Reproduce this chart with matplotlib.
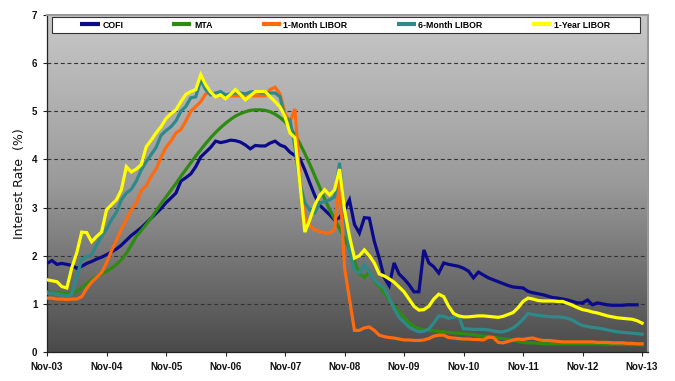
import numpy as np
import matplotlib
matplotlib.use("Agg")
import matplotlib.pyplot as plt
from matplotlib.colors import LinearSegmentedColormap
from matplotlib.patches import Rectangle

# ---------------- data (monthly, Nov-03 .. Nov-13) ----------------
tick_labels = ["Nov-03", "Nov-04", "Nov-05", "Nov-06", "Nov-07", "Nov-08",
               "Nov-09", "Nov-10", "Nov-11", "Nov-12", "Nov-13"]

cofi = [1.84, 1.90, 1.82, 1.84, 1.82, 1.80, 1.74, 1.78, 1.84, 1.88, 1.93, 1.97,
        2.02, 2.08, 2.14, 2.22, 2.32, 2.42, 2.50, 2.58, 2.68, 2.78, 2.88, 2.98,
        3.10, 3.20, 3.30, 3.55, 3.62, 3.70, 3.85, 4.05, 4.15, 4.25, 4.38, 4.35,
        4.37, 4.40, 4.39, 4.36, 4.30, 4.22, 4.29, 4.28, 4.28, 4.34, 4.38, 4.30,
        4.26, 4.15, 4.08, 4.02, 3.78, 3.51, 3.25, 3.05, 2.95, 2.85, 2.74, 2.79,
        2.95, 3.16, 2.65, 2.47, 2.79, 2.78, 2.30, 1.95, 1.55, 1.38, 1.85, 1.62,
        1.52, 1.40, 1.25, 1.25, 2.12, 1.85, 1.77, 1.64, 1.85, 1.82, 1.80, 1.78,
        1.74, 1.68, 1.54, 1.66, 1.60, 1.54, 1.50, 1.46, 1.42, 1.38, 1.35, 1.34,
        1.33, 1.26, 1.23, 1.21, 1.19, 1.16, 1.13, 1.12, 1.10, 1.08, 1.05, 1.02,
        1.02, 1.08, 0.98, 1.02, 1.00, 0.98, 0.97, 0.97, 0.97, 0.98, 0.98, 0.98]

mta = [1.25, 1.24, 1.23, 1.22, 1.22, 1.22, 1.26, 1.33, 1.42, 1.50, 1.57, 1.62,
       1.67, 1.74, 1.82, 1.92, 2.05, 2.22, 2.40, 2.52, 2.65, 2.78, 2.93, 3.08,
       3.22, 3.36, 3.50, 3.65, 3.79, 3.93, 4.07, 4.20, 4.33, 4.45, 4.56, 4.66,
       4.75, 4.83, 4.90, 4.95, 4.99, 5.02, 5.03, 5.03, 5.02, 4.99, 4.94, 4.87,
       4.78, 4.66, 4.51, 4.33, 4.12, 3.90, 3.66, 3.42, 3.18, 2.96, 2.76, 2.56,
       2.36, 2.14, 1.88, 1.62, 1.55, 1.66, 1.48, 1.36, 1.23, 1.08, 0.95, 0.84,
       0.72, 0.61, 0.53, 0.49, 0.46, 0.45, 0.44, 0.43, 0.42, 0.41, 0.40, 0.39,
       0.38, 0.37, 0.36, 0.34, 0.33, 0.32, 0.31, 0.29, 0.28, 0.26, 0.24, 0.22,
       0.20, 0.19, 0.19, 0.18, 0.17, 0.17, 0.17, 0.17, 0.17, 0.17, 0.17, 0.17,
       0.17, 0.17, 0.17, 0.17, 0.17, 0.16, 0.16, 0.16, 0.16, 0.16, 0.15, 0.15,
       0.15]

libor_1m = [1.12, 1.12, 1.10, 1.10, 1.09, 1.10, 1.10, 1.15, 1.32, 1.45, 1.55, 1.65,
            1.85, 2.10, 2.32, 2.55, 2.75, 2.95, 3.10, 3.35, 3.45, 3.65, 3.80, 4.05,
            4.25, 4.38, 4.55, 4.62, 4.80, 5.00, 5.10, 5.20, 5.36, 5.40, 5.32, 5.32,
            5.32, 5.32, 5.32, 5.32, 5.32, 5.32, 5.32, 5.32, 5.32, 5.45, 5.50, 5.36,
            4.95, 4.78, 5.05, 3.60, 2.80, 2.62, 2.54, 2.50, 2.47, 2.47, 2.55, 3.60,
            1.75, 1.10, 0.45, 0.45, 0.50, 0.52, 0.45, 0.35, 0.32, 0.30, 0.29, 0.27,
            0.25, 0.25, 0.24, 0.24, 0.25, 0.28, 0.33, 0.35, 0.35, 0.30, 0.29, 0.28,
            0.27, 0.27, 0.26, 0.26, 0.25, 0.31, 0.30, 0.20, 0.19, 0.22, 0.25, 0.27,
            0.26, 0.28, 0.29, 0.26, 0.24, 0.24, 0.23, 0.22, 0.21, 0.21, 0.21, 0.21,
            0.21, 0.21, 0.21, 0.20, 0.20, 0.20, 0.19, 0.19, 0.19, 0.18, 0.18, 0.17,
            0.17]

libor_6m = [1.22, 1.22, 1.20, 1.18, 1.16, 1.20, 1.55, 1.93, 1.98, 2.02, 2.22, 2.40,
            2.55, 2.75, 2.90, 3.16, 3.30, 3.38, 3.55, 3.78, 3.95, 4.10, 4.25, 4.50,
            4.60, 4.68, 4.80, 5.00, 5.10, 5.28, 5.30, 5.65, 5.45, 5.34, 5.38, 5.41,
            5.34, 5.36, 5.38, 5.38, 5.36, 5.40, 5.41, 5.38, 5.38, 5.38, 5.38, 5.30,
            4.86, 4.82, 4.26, 3.50, 3.10, 2.95, 2.89, 3.10, 3.12, 3.16, 3.22, 3.93,
            2.85, 2.10, 1.70, 1.64, 1.81, 1.66, 1.50, 1.40, 1.33, 1.12, 0.90, 0.72,
            0.62, 0.52, 0.46, 0.42, 0.43, 0.48, 0.60, 0.75, 0.74, 0.70, 0.72, 0.75,
            0.48, 0.48, 0.47, 0.47, 0.47, 0.46, 0.44, 0.42, 0.42, 0.45, 0.50, 0.58,
            0.68, 0.80, 0.78, 0.76, 0.75, 0.74, 0.73, 0.73, 0.72, 0.70, 0.66, 0.60,
            0.55, 0.53, 0.51, 0.50, 0.48, 0.46, 0.44, 0.42, 0.41, 0.40, 0.39, 0.38,
            0.37]

libor_1y = [1.50, 1.48, 1.46, 1.36, 1.33, 1.75, 2.06, 2.49, 2.48, 2.29, 2.40, 2.49,
            2.95, 3.06, 3.16, 3.37, 3.85, 3.74, 3.80, 3.89, 4.26, 4.40, 4.55, 4.68,
            4.85, 4.95, 5.03, 5.20, 5.35, 5.41, 5.45, 5.76, 5.55, 5.40, 5.30, 5.34,
            5.26, 5.35, 5.45, 5.35, 5.24, 5.32, 5.41, 5.41, 5.41, 5.30, 5.20, 5.09,
            4.89, 4.55, 4.45, 3.50, 2.49, 2.75, 3.05, 3.25, 3.37, 3.26, 3.37, 3.80,
            2.95, 2.40, 1.95, 2.00, 2.12, 2.00, 1.85, 1.62, 1.58, 1.52, 1.45, 1.35,
            1.25, 1.10, 0.95, 0.87, 0.88, 0.95, 1.10, 1.20, 1.15, 0.95, 0.80, 0.75,
            0.73, 0.73, 0.74, 0.75, 0.75, 0.74, 0.73, 0.72, 0.74, 0.78, 0.82, 0.92,
            1.05, 1.12, 1.10, 1.07, 1.06, 1.06, 1.06, 1.05, 1.05, 1.01, 0.97, 0.92,
            0.88, 0.86, 0.83, 0.81, 0.78, 0.75, 0.73, 0.71, 0.70, 0.69, 0.68, 0.65,
            0.60]

series = [("COFI", cofi, "#0a0a8a"),
          ("MTA", mta, "#2e8b12"),
          ("1-Month LIBOR", libor_1m, "#ff6a0e"),
          ("6-Month LIBOR", libor_6m, "#2e8a8a"),
          ("1-Year LIBOR", libor_1y, "#ffff00")]

# ---------------- figure ----------------
W, H = 675, 381
fig = plt.figure(figsize=(W / 100, H / 100), dpi=100)
ax = fig.add_axes([47 / W, (H - 352) / H, (648 - 47) / W, (352 - 15) / H])

xmax = 121.2
ax.set_xlim(0, xmax)
ax.set_ylim(0, 7)

# gradient background
cmap = LinearSegmentedColormap.from_list("bg", ["#c8c8c8", "#9a9a9a", "#4a4a4a"])
grad = np.linspace(0, 1, 256).reshape(-1, 1)
ax.imshow(grad, cmap=cmap, aspect="auto", extent=[0, xmax, 0, 7],
          origin="upper", zorder=0)

for y in range(1, 7):
    ax.axhline(y, color="#333333", lw=0.8, ls=(0, (3.5, 2.5)), zorder=1)

for name, vals, col in series:
    ax.plot(np.arange(len(vals)), vals, color=col, lw=2.3, label=name,
            zorder=3, solid_joinstyle="miter")

ax.set_xticks(np.arange(0, 121, 12))
ax.set_xticklabels(tick_labels)
ax.set_yticks(range(0, 8))
ax.tick_params(axis="both", labelsize=7, length=3, width=0.8, color="#222222",
               pad=4)
for lab in ax.get_xticklabels() + ax.get_yticklabels():
    lab.set_fontfamily("Liberation Sans")
    lab.set_fontweight("bold")
    lab.set_color("#111111")

for s in ["left", "bottom"]:
    ax.spines[s].set_color("#222222")
    ax.spines[s].set_linewidth(0.9)
for s in ["top", "right"]:
    ax.spines[s].set_color("#9a9a9a")
    ax.spines[s].set_linewidth(1.5)

ax.set_ylabel("Interest Rate  (%)", fontsize=9, color="#111111", labelpad=4)

# legend box (white, framed) and entries
box = Rectangle((52 / W, (H - 33) / H), 588 / W, 16 / H, transform=fig.transFigure,
                facecolor="white", edgecolor="#333333", lw=0.8, zorder=4.5)
ax.add_patch(box)
leg = ax.legend(loc="center", bbox_to_anchor=(345 / W, (H - 25) / H),
                bbox_transform=fig.transFigure, ncol=5, frameon=False,
                prop={"family": "Liberation Sans", "weight": "bold", "size": 6.3},
                handlelength=2.2, handletextpad=0.3, columnspacing=5.6,
                borderpad=0.0, borderaxespad=0.0)
leg.set_zorder(5)
for h in leg.get_lines():
    h.set_linewidth(3)
    h.set_solid_capstyle("butt")

fig.savefig("out.png", dpi=100)
